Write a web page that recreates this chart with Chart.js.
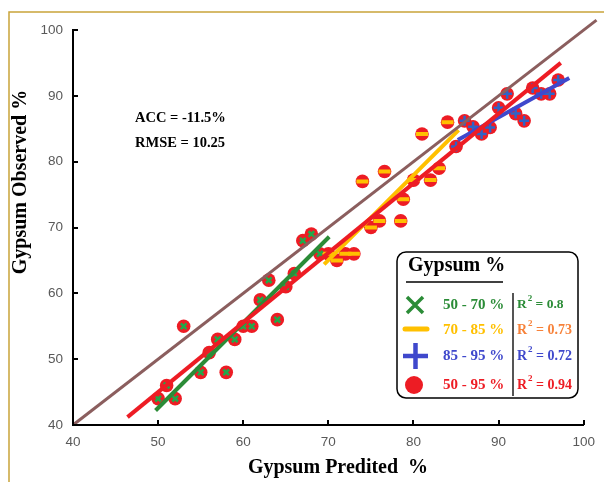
<!DOCTYPE html>
<html>
<head>
<meta charset="utf-8">
<script src="https://cdn.jsdelivr.net/npm/chart.js@4.4.1/dist/chart.umd.min.js"></script>
<style>
  html, body { margin: 0; padding: 0; background: #fff; }
  canvas { display: block; }
</style>
</head>
<body>
<canvas id="gypsum" width="604" height="482"></canvas>
<script>
const xTicks = [40, 50, 60, 70, 80, 90, 100];
const yTicks = [40, 50, 60, 70, 80, 90, 100];

// predicted vs observed, per range
const range50to70 = [
  [50, 44], [51, 46], [52, 44], [53, 55], [55, 48], [56, 51], [57, 53],
  [58, 48], [59, 53], [60, 55], [61, 55], [62, 59], [63, 62], [64, 56],
  [65, 61], [66, 63], [67, 68], [68, 69], [69, 66],
];
const range70to85 = [
  [70, 66], [71, 65], [72, 66], [73, 66], [74, 77], [75, 70], [76, 71],
  [76.6, 78.5], [78.5, 71], [78.8, 74.3], [80, 77.2], [81, 84.2],
  [82, 77.2], [83, 79], [84, 86],
];
const range85to95 = [
  [85, 82.3], [86, 86.2], [87, 85.3], [88, 84.2], [89, 85.2], [90, 88.2],
  [91, 90.3], [92, 87.3], [93, 86.2], [94, 91.2], [95, 90.3], [96, 90.3],
  [97, 92.4],
];

// fitted lines (start, end)
const fit50to70 = [[49.7, 42.2], [70.1, 68.6]];
const fit70to85 = [[69.5, 64.4], [85.3, 84.8]];
const fit85to95 = [[85.2, 83.3], [98.3, 92.7]];
const fitAll = [[46.4, 41.2], [97.3, 95]];
const oneToOne = [[40, 40], [101.5, 101.5]];

const toXY = (arr) => arr.map(([x, y]) => ({ x, y }));

const RED = "#ED1C24";
const GREEN = "#2B8C37";
const YELLOW = "#FFC000";
const BLUE = "#3F48CC";
const ORANGE = "#F7823A";

const allPoints = [...range50to70, ...range70to85, ...range85to95];

function lineSet(data, color, width) {
  return {
    type: "line",
    data: toXY(data),
    borderColor: color,
    borderWidth: width,
    pointRadius: 0,
    borderCapStyle: "butt",
    clip: false,
    order: 0,
  };
}

function markSet(data, style, color, radius, width) {
  return {
    type: "scatter",
    data: toXY(data),
    pointStyle: style,
    pointRadius: radius,
    pointHoverRadius: radius,
    borderColor: color,
    backgroundColor: color,
    pointBorderWidth: width,
    order: 1,
  };
}

const chartFrame = {
  id: "chartFrame",
  beforeDraw: (chart) => {
    const { ctx, width, height } = chart;
    ctx.save();
    ctx.fillStyle = "#fff";
    ctx.fillRect(0, 0, width, height);
    ctx.strokeStyle = "#C9A43A";
    ctx.lineWidth = 1.5;
    ctx.beginPath();
    ctx.moveTo(9, height);
    ctx.lineTo(9, 12);
    ctx.lineTo(width, 12);
    ctx.stroke();
    ctx.restore();
  },
  afterDraw: (chart) => {
    const { ctx, scales } = chart;
    const x = scales.x;
    const y = scales.y;
    const left = chart.chartArea.left;
    const bottom = chart.chartArea.bottom;

    ctx.save();
    // inward tick marks
    ctx.strokeStyle = "#000";
    ctx.lineWidth = 2;
    ctx.beginPath();
    xTicks.forEach((v) => {
      const px = Math.round(x.getPixelForValue(v));
      ctx.moveTo(px, bottom);
      ctx.lineTo(px, bottom - 5);
    });
    yTicks.forEach((v) => {
      const py = Math.round(y.getPixelForValue(v));
      ctx.moveTo(left, py);
      ctx.lineTo(left + 5, py);
    });
    ctx.stroke();

    // axis titles
    ctx.fillStyle = "#000";
    ctx.font = 'bold 20px "Liberation Serif"';
    ctx.textAlign = "center";
    ctx.textBaseline = "middle";
    ctx.fillText("Gypsum Predited  %", 338, 468);
    ctx.save();
    ctx.translate(21, 182);
    ctx.rotate(-Math.PI / 2);
    ctx.fillText("Gypsum Observed %", 0, 0);
    ctx.restore();

    // stats
    ctx.font = 'bold 14.5px "Liberation Serif"';
    ctx.textAlign = "left";
    ctx.fillText("ACC = -11.5%", 135, 118);
    ctx.fillText("RMSE = 10.25", 135, 143);

    // legend box
    ctx.beginPath();
    ctx.roundRect(397, 252, 181, 146, 9);
    ctx.fillStyle = "#fff";
    ctx.fill();
    ctx.lineWidth = 1.5;
    ctx.strokeStyle = "#000";
    ctx.stroke();

    ctx.fillStyle = "#000";
    ctx.font = 'bold 20px "Liberation Serif"';
    ctx.fillText("Gypsum %", 408, 266);
    ctx.beginPath();
    ctx.moveTo(406, 282);
    ctx.lineTo(503, 282);
    ctx.lineWidth = 1.5;
    ctx.stroke();

    // symbols
    ctx.lineCap = "butt";
    ctx.strokeStyle = GREEN;
    ctx.lineWidth = 3.5;
    ctx.beginPath();
    ctx.moveTo(407, 297);
    ctx.lineTo(423, 313);
    ctx.moveTo(423, 297);
    ctx.lineTo(407, 313);
    ctx.stroke();

    ctx.strokeStyle = YELLOW;
    ctx.lineWidth = 5;
    ctx.lineCap = "round";
    ctx.beginPath();
    ctx.moveTo(405, 329);
    ctx.lineTo(427, 329);
    ctx.stroke();

    ctx.strokeStyle = BLUE;
    ctx.lineWidth = 4.5;
    ctx.lineCap = "butt";
    ctx.beginPath();
    ctx.moveTo(403, 356);
    ctx.lineTo(428, 356);
    ctx.moveTo(415.5, 343);
    ctx.lineTo(415.5, 369);
    ctx.stroke();

    ctx.fillStyle = RED;
    ctx.beginPath();
    ctx.arc(414, 385, 9, 0, 2 * Math.PI);
    ctx.fill();

    const rows = [
      { y: 305, label: "50 - 70 %", color: GREEN, r2: "0.8", r2Color: GREEN, size: 13.5 },
      { y: 330, label: "70 - 85 %", color: YELLOW, r2: "0.73", r2Color: ORANGE, size: 14 },
      { y: 356, label: "85 - 95 %", color: BLUE, r2: "0.72", r2Color: BLUE, size: 14 },
      { y: 385, label: "50 - 95 %", color: RED, r2: "0.94", r2Color: RED, size: 14 },
    ];
    ctx.textBaseline = "middle";
    rows.forEach((row) => {
      ctx.font = 'bold 15px "Liberation Serif"';
      ctx.fillStyle = row.color;
      ctx.fillText(row.label, 443, row.y);

      ctx.fillStyle = row.r2Color;
      ctx.font = `bold ${row.size}px "Liberation Serif"`;
      ctx.fillText("R", 517, row.y);
      const rw = ctx.measureText("R").width;
      ctx.font = 'bold 9px "Liberation Serif"';
      ctx.fillText("2", 517 + rw + 1, row.y - 6);
      const sw = ctx.measureText("2").width;
      ctx.font = `bold ${row.size}px "Liberation Serif"`;
      ctx.fillText(" = " + row.r2, 517 + rw + sw + 1, row.y);
    });

    ctx.strokeStyle = "#555";
    ctx.lineWidth = 2;
    ctx.beginPath();
    ctx.moveTo(513, 293);
    ctx.lineTo(513, 396);
    ctx.stroke();

    ctx.restore();
  },
};

const tickFont = { family: '"Liberation Sans", sans-serif', size: 13.5 };

const config = {
  type: "scatter",
  data: {
    datasets: [
      lineSet(oneToOne, "#8B5E5E", 3),
      lineSet(fitAll, RED, 4),
      lineSet(fit50to70, GREEN, 4),
      lineSet(fit70to85, YELLOW, 4),
      lineSet(fit85to95, BLUE, 4),
      markSet(range50to70, "crossRot", "#22A84A", 4, 2.5),
      markSet(range70to85, "line", YELLOW, 6, 4),
      markSet(range85to95, "cross", "#2F63C6", 5, 2.5),
      {
        type: "scatter",
        data: toXY(allPoints),
        pointStyle: "circle",
        pointRadius: 6.8,
        pointHoverRadius: 6.8,
        backgroundColor: RED,
        borderColor: RED,
        pointBorderWidth: 0,
        order: 2,
      },
    ],
  },
  options: {
    responsive: false,
    animation: false,
    events: [],
    layout: {
      padding: { left: 0, top: 30, right: 16, bottom: 0 },
    },
    plugins: {
      legend: { display: false },
      tooltip: { enabled: false },
    },
    scales: {
      x: {
        type: "linear",
        min: 40,
        max: 100,
        afterBuildTicks: (scale) => {
          scale.ticks = xTicks.map((value) => ({ value }));
        },
        afterFit: (scale) => {
          scale.height = 57;
        },
        grid: { display: false, drawTicks: false },
        border: { display: true, color: "#000", width: 2 },
        ticks: { color: "#595959", font: tickFont, padding: 9 },
      },
      y: {
        type: "linear",
        min: 40,
        max: 100,
        afterBuildTicks: (scale) => {
          scale.ticks = yTicks.map((value) => ({ value }));
        },
        afterFit: (scale) => {
          scale.width = 73;
        },
        grid: { display: false, drawTicks: false },
        border: { display: true, color: "#000", width: 2 },
        ticks: { color: "#595959", font: tickFont, padding: 10 },
      },
    },
  },
  plugins: [chartFrame],
};

new Chart(document.getElementById("gypsum"), config);
</script>
</body>
</html>
